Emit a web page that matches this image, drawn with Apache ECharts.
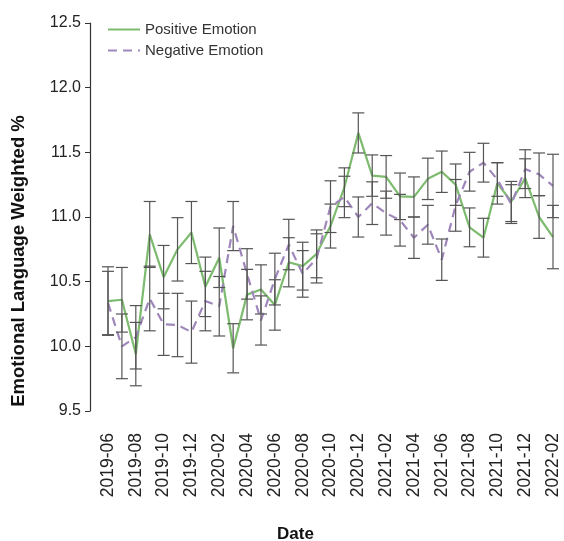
<!DOCTYPE html>
<html>
<head>
<meta charset="utf-8">
<script src="https://cdn.jsdelivr.net/npm/echarts@6/dist/echarts.min.js"></script>
<style>
  html, body { margin: 0; padding: 0; background: #fff; }
  #chart { width: 564px; height: 541px; }
</style>
</head>
<body>
<div id="chart"></div>
<script>
var months = ['2019-06','2019-07','2019-08','2019-09','2019-10','2019-11','2019-12',
  '2020-01','2020-02','2020-03','2020-04','2020-05','2020-06','2020-07','2020-08','2020-09',
  '2020-10','2020-11','2020-12','2021-01','2021-02','2021-03','2021-04','2021-05','2021-06',
  '2021-07','2021-08','2021-09','2021-10','2021-11','2021-12','2022-01','2022-02'];

var positive = [10.35, 10.36, 9.94, 10.865, 10.535, 10.75, 10.88,
  10.46, 10.685, 9.985, 10.40, 10.44, 10.32, 10.65, 10.62, 10.715,
  10.93, 11.23, 11.65, 11.32, 11.31, 11.16, 11.155, 11.295, 11.35,
  11.25, 10.92, 10.84, 11.26, 11.12, 11.30, 11.0, 10.845];
var positiveErr = [0.265, 0.25, 0.245, 0.255, 0.245, 0.245, 0.24,
  0.23, 0.23, 0.19, 0.195, 0.19, 0.195, 0.19, 0.185, 0.185,
  0.17, 0.15, 0.155, 0.16, 0.165, 0.18, 0.155, 0.16, 0.16,
  0.16, 0.15, 0.15, 0.16, 0.155, 0.15, 0.165, 0.245];

var negative = [10.335, 10.0, 10.07, 10.37, 10.17, 10.165, 10.11,
  10.35, 10.31, 10.93, 10.56, 10.2, 10.52, 10.787, 10.56, 10.68,
  11.08, 11.155, 11.0, 11.107, 11.03, 10.975, 10.84, 10.94, 10.67,
  11.09, 11.35, 11.42, 11.29, 11.10, 11.37, 11.33, 11.24];
var negativeErr = [0.245, 0.25, 0.245, 0.25, 0.24, 0.245, 0.24,
  0.23, 0.23, 0.19, 0.195, 0.19, 0.2, 0.195, 0.18, 0.19,
  0.2, 0.16, 0.155, 0.165, 0.17, 0.2, 0.16, 0.15, 0.16,
  0.2, 0.15, 0.15, 0.13, 0.15, 0.15, 0.165, 0.245];

var yTicks = [9.5, 10.0, 10.5, 11.0, 11.5, 12.0, 12.5];

function errData(vals, errs) {
  return vals.map(function(v, i) {
    return [i, +(v - errs[i]).toFixed(3), +(v + errs[i]).toFixed(3)];
  });
}

function renderErr(params, api) {
  var lo = api.coord([api.value(0), api.value(1)]);
  var hi = api.coord([api.value(0), api.value(2)]);
  var w = 6;
  var st = { stroke: '#555', lineWidth: 1.2 };
  return {
    type: 'group',
    children: [
      { type: 'line', shape: { x1: hi[0], y1: hi[1], x2: lo[0], y2: lo[1] }, style: st },
      { type: 'line', shape: { x1: hi[0] - w, y1: hi[1], x2: hi[0] + w, y2: hi[1] }, style: st },
      { type: 'line', shape: { x1: lo[0] - w, y1: lo[1], x2: lo[0] + w, y2: lo[1] }, style: st }
    ]
  };
}

var chart = echarts.init(document.getElementById('chart'));
var option = {
  animation: false,
  textStyle: { fontFamily: 'Liberation Sans, Arial, sans-serif' },
  grid: { left: 108, right: 11, top: 23, bottom: 130 },
  legend: {
    data: ['Positive Emotion', 'Negative Emotion'],
    orient: 'vertical',
    left: 102,
    top: 17,
    itemWidth: 32,
    itemHeight: 14,
    itemGap: 6,
    itemStyle: { opacity: 0 },
    textStyle: { fontSize: 15, color: '#333' }
  },
  xAxis: {
    type: 'category',
    data: months,
    boundaryGap: false,
    axisLine: { show: false },
    axisTick: { show: false },
    axisLabel: { interval: 1, rotate: 90, fontSize: 17.5, color: '#222', margin: 22 },
    splitLine: { show: false }
  },
  yAxis: {
    type: 'value',
    min: 9.5,
    max: 12.5,
    interval: 0.5,
    offset: 18,
    axisLine: { show: true, lineStyle: { color: '#333', width: 1.2 } },
    axisTick: { show: true, length: 5, lineStyle: { color: '#333' } },
    axisLabel: {
      fontSize: 16, color: '#222', margin: 9,
      formatter: function(v) { return yTicks.indexOf(v) >= 0 ? v.toFixed(1) : ''; }
    },
    splitLine: { show: false }
  },
  graphic: [
    {
      type: 'text', left: 277, top: 526,
      style: { text: 'Date', font: 'bold 17px Liberation Sans, Arial, sans-serif', fill: '#111' }
    },
    {
      type: 'text', x: 28, y: 261, rotation: Math.PI / 2,
      style: {
        text: 'Emotional Language Weighted %',
        font: 'bold 18.5px Liberation Sans, Arial, sans-serif',
        fill: '#111', align: 'center', verticalAlign: 'bottom'
      }
    }
  ],
  series: [
    {
      name: 'Positive Emotion',
      type: 'line',
      data: positive,
      symbol: 'none',
      color: '#7dbb6f',
      lineStyle: { width: 2.2, color: '#7dbb6f' },
      z: 2
    },
    {
      name: 'Negative Emotion',
      type: 'line',
      data: negative,
      symbol: 'none',
      color: '#9f86bb',
      lineStyle: { width: 2.2, color: '#9f86bb', type: [9, 6] },
      z: 2
    },
    {
      name: 'posErr',
      type: 'custom',
      renderItem: renderErr,
      data: errData(positive, positiveErr),
      encode: { x: 0, y: [1, 2] },
      z: 3,
      silent: true
    },
    {
      name: 'negErr',
      type: 'custom',
      renderItem: renderErr,
      data: errData(negative, negativeErr),
      encode: { x: 0, y: [1, 2] },
      z: 3,
      silent: true
    }
  ]
};
chart.setOption(option);
</script>
</body>
</html>
